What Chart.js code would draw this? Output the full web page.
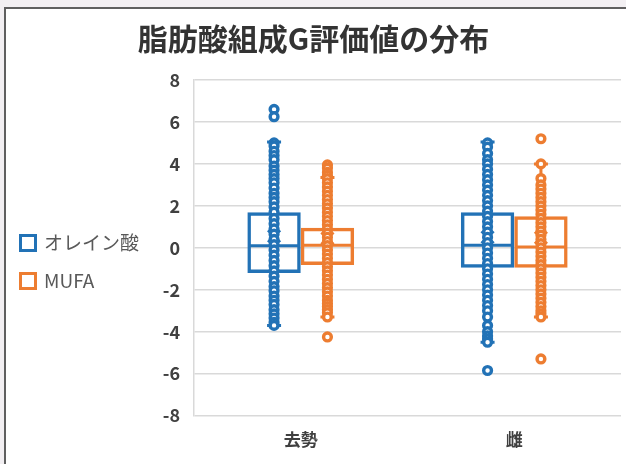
<!DOCTYPE html>
<html>
<head>
<meta charset="utf-8">
<script src="https://cdn.jsdelivr.net/npm/chart.js@4.4.0/dist/chart.umd.min.js"></script>
<style>
  body { margin: 0; background: #f2eff2; overflow: hidden; }
  #frame {
    position: absolute; left: 4px; top: 7px;
    width: 622px; height: 457px;
    background: #ffffff;
    border-left: 2px solid #5f5f5f;
    border-top: 2px solid #5f5f5f;
  }
  canvas { display: block; }
</style>
</head>
<body>
<div id="frame"><canvas id="boxChart" width="620" height="455"></canvas></div>
<script>
// ----------------------------------------------------------
// 区分と系列
// ----------------------------------------------------------
const categories = ["去勢", "雌"];
const seriesNames = ["オレイン酸", "MUFA"];
const seriesColors = ["#2272b6", "#ed7d31"];

// ----------------------------------------------------------
// 個体ごとの評価値（箱ひげ図の内側の点）
// ----------------------------------------------------------
const oleicKyosei = [6.6, 6.25, 5.0, 4.85, 4.6, 4.4, 4.2, 3.9, 3.7, 3.5, 3.3, 3.1, 2.85, 2.6, 2.4, 2.2,
  1.95, 1.7, 1.4, 1.15, 0.9, 0.65, 0.4, 0.15, -0.1, -0.35, -0.6, -0.85, -1.1, -1.35, -1.6, -1.85,
  -2.05, -2.3, -2.5, -2.7, -2.95, -3.15, -3.35, -3.55, -3.7];
const oleicMesu = [5.0, 4.8, 4.5, 4.2, 4.0, 3.75, 3.5, 3.25, 3.0, 2.75, 2.5, 2.25, 2.0, 1.75, 1.5, 1.25,
  1.0, 0.75, 0.5, 0.25, 0.0, -0.25, -0.5, -0.75, -1.0, -1.25, -1.5, -1.75, -2.0, -2.25, -2.5, -2.75,
  -3.0, -3.3, -3.7, -4.0, -4.2, -4.35, -4.5, -5.85];
const mufaKyosei = [3.95, 3.8, 3.6, 3.45, 3.3, 3.1, 2.9, 2.7, 2.5, 2.3, 2.1, 1.9, 1.7, 1.5, 1.3, 1.1,
  0.9, 0.7, 0.5, 0.3, 0.1, -0.1, -0.3, -0.5, -0.7, -0.9, -1.1, -1.3, -1.5, -1.7, -1.9, -2.1,
  -2.3, -2.5, -2.65, -2.8, -2.95, -3.1, -3.3, -4.25];
const mufaMesu = [5.2, 4.0, 3.3, 3.0, 2.8, 2.6, 2.4, 2.2, 2.0, 1.8, 1.6, 1.4, 1.2, 1.0, 0.8, 0.6,
  0.4, 0.2, 0.0, -0.2, -0.4, -0.6, -0.8, -1.0, -1.2, -1.4, -1.6, -1.8, -2.0, -2.2, -2.4, -2.6,
  -2.8, -3.0, -3.15, -3.3, -5.3];

// ----------------------------------------------------------
// 箱ひげの統計値（区分ごと）
// ----------------------------------------------------------
const oleicQ1 = [-1.2, -0.95];
const oleicQ3 = [1.7, 1.7];
const oleicMedian = [0.1, 0.12];
const oleicMean = [0.55, 0.5];
const oleicLow = [-3.7, -4.5];
const oleicHigh = [5.05, 5.05];

const mufaQ1 = [-0.82, -0.95];
const mufaQ3 = [0.95, 1.5];
const mufaMedian = [0.12, 0.04];
const mufaMean = [0.45, 0.48];
const mufaLow = [-3.3, -3.3];
const mufaHigh = [3.35, 4.0];

// 目盛り
const yMin = -8;
const yMax = 8;
const yStep = 2;

// 系列ごとにまとめる（描画用）
const boxStats = [
  { q1: oleicQ1, q3: oleicQ3, median: oleicMedian, mean: oleicMean, low: oleicLow, high: oleicHigh,
    points: [oleicKyosei, oleicMesu] },
  { q1: mufaQ1, q3: mufaQ3, median: mufaMedian, mean: mufaMean, low: mufaLow, high: mufaHigh,
    points: [mufaKyosei, mufaMesu] }
];

// ----------------------------------------------------------
// ひげ・中央値・点・平均マーカーを描くプラグイン
// ----------------------------------------------------------
const boxWhiskerPlugin = {
  id: "boxWhisker",
  afterDatasetsDraw(chart) {
    const ctx = chart.ctx;
    const yScale = chart.scales.y;

    boxStats.forEach((stats, d) => {
      const meta = chart.getDatasetMeta(d);
      const color = seriesColors[d];

      meta.data.forEach((bar, i) => {
        const x = bar.x;
        const half = bar.width / 2;
        const yQ1 = yScale.getPixelForValue(stats.q1[i]);
        const yQ3 = yScale.getPixelForValue(stats.q3[i]);
        const yLow = yScale.getPixelForValue(stats.low[i]);
        const yHigh = yScale.getPixelForValue(stats.high[i]);
        const yMed = yScale.getPixelForValue(stats.median[i]);
        const yMean = yScale.getPixelForValue(stats.mean[i]);

        ctx.save();
        ctx.strokeStyle = color;
        ctx.lineWidth = 3;
        ctx.lineCap = "butt";

        // ひげ
        ctx.beginPath();
        ctx.moveTo(x, yQ3);
        ctx.lineTo(x, yHigh);
        ctx.moveTo(x, yQ1);
        ctx.lineTo(x, yLow);
        ctx.moveTo(x - 7, yHigh);
        ctx.lineTo(x + 7, yHigh);
        ctx.moveTo(x - 7, yLow);
        ctx.lineTo(x + 7, yLow);
        ctx.stroke();

        // 中央値
        ctx.beginPath();
        ctx.moveTo(x - half + 1, yMed);
        ctx.lineTo(x + half - 1, yMed);
        ctx.stroke();

        // 平均（×印）
        ctx.beginPath();
        ctx.moveTo(x - 6, yMean - 6);
        ctx.lineTo(x + 6, yMean + 6);
        ctx.moveTo(x - 6, yMean + 6);
        ctx.lineTo(x + 6, yMean - 6);
        ctx.stroke();

        // 内側の点
        ctx.lineWidth = 3.4;
        ctx.fillStyle = "#ffffff";
        stats.points[i].forEach(v => {
          const y = yScale.getPixelForValue(v);
          ctx.beginPath();
          ctx.arc(x, y, 3.9, 0, Math.PI * 2);
          ctx.fill();
          ctx.stroke();
        });
        ctx.restore();
      });
    });
  },
  afterDraw(chart) {
    // 左側の凡例
    const ctx = chart.ctx;
    const legendY = [234, 272];
    ctx.save();
    ctx.font = '19px "Noto Sans CJK JP"';
    ctx.textBaseline = "middle";
    seriesNames.forEach((name, i) => {
      ctx.strokeStyle = seriesColors[i];
      ctx.lineWidth = 3;
      ctx.strokeRect(14.5, legendY[i] - 7.5, 15, 15);
      ctx.fillStyle = "#595959";
      ctx.fillText(name, 38, legendY[i]);
    });
    ctx.restore();
  }
};

const ctx = document.getElementById("boxChart").getContext("2d");

new Chart(ctx, {
  type: "bar",
  data: {
    labels: categories,
    datasets: boxStats.map((stats, d) => ({
      label: seriesNames[d],
      data: stats.q1.map((q1, i) => [q1, stats.q3[i]]),
      backgroundColor: "rgba(255,255,255,0)",
      borderColor: seriesColors[d],
      borderWidth: 3.5,
      borderSkipped: false,
      categoryPercentage: 0.5,
      barPercentage: 1.0
    }))
  },
  options: {
    responsive: false,
    animation: false,
    layout: { padding: { left: 0, right: 5, top: 0, bottom: 0 } },
    plugins: {
      legend: { display: false },
      tooltip: { enabled: false },
      title: {
        display: true,
        text: "脂肪酸組成G評価値の分布",
        color: "#333333",
        font: { family: '"Noto Sans CJK JP"', size: 30, weight: "bold" },
        padding: { top: 12, bottom: 23 }
      }
    },
    scales: {
      x: {
        grid: { display: false, drawTicks: false },
        border: { display: false },
        ticks: {
          color: "#404040",
          padding: 14,
          font: { family: '"Noto Sans CJK JP"', size: 17, weight: "bold" }
        }
      },
      y: {
        min: yMin,
        max: yMax,
        afterFit(scale) { scale.width = 188; },
        grid: { color: "#d9d9d9", lineWidth: 1.5, drawTicks: false },
        border: { display: true, color: "#d9d9d9", width: 1.5 },
        ticks: {
          stepSize: yStep,
          color: "#404040",
          padding: 14,
          font: { family: '"Noto Sans CJK JP"', size: 18, weight: "bold" }
        }
      }
    }
  },
  plugins: [boxWhiskerPlugin]
});
</script>
</body>
</html>
